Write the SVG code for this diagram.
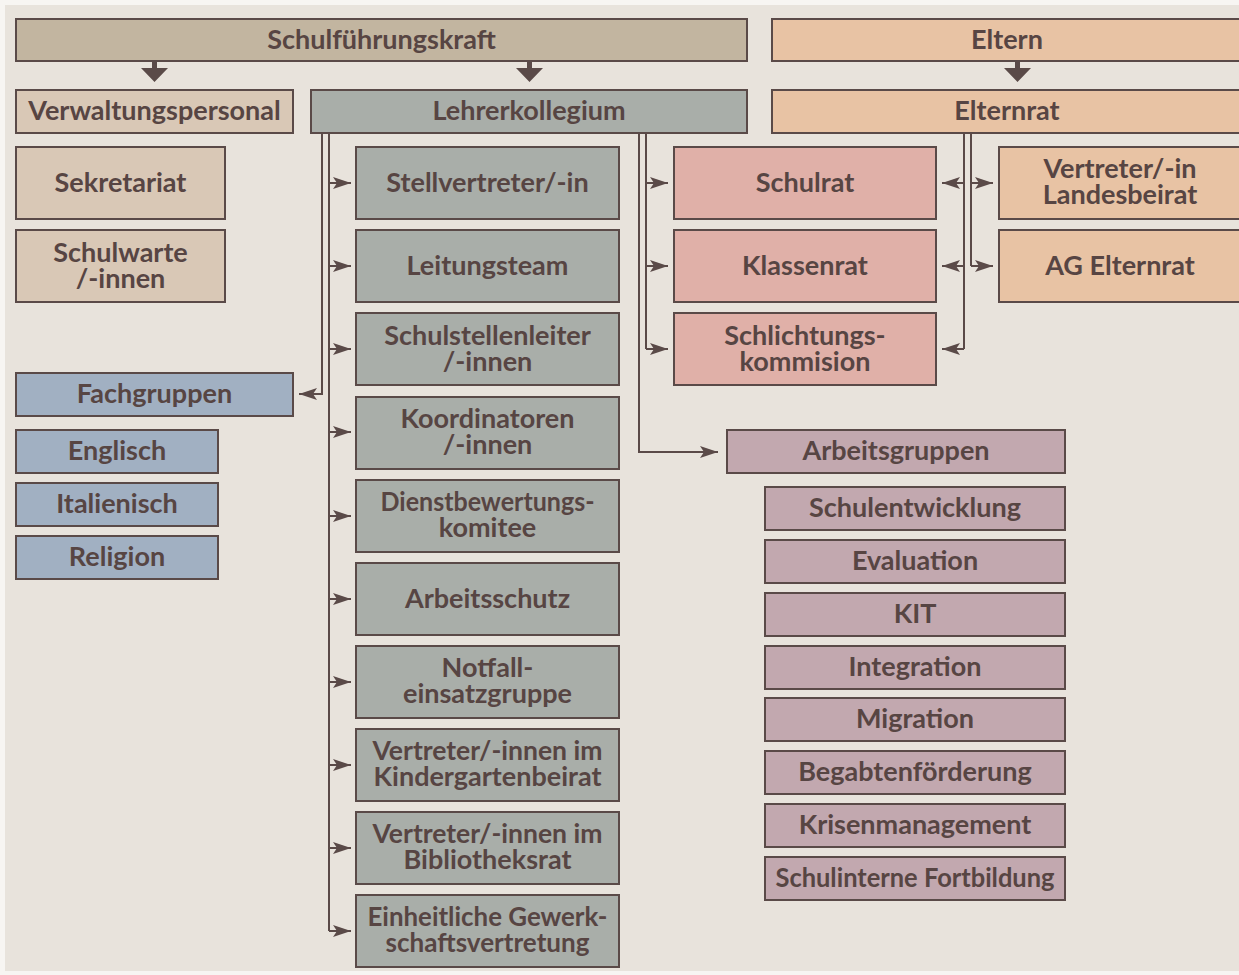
<svg xmlns="http://www.w3.org/2000/svg" width="1239" height="975" viewBox="0 0 1239 975">
<defs>
<style>
.b{stroke:#5a4a48;stroke-width:2}
.t{font-family:Lato,"Open Sans","DejaVu Sans",sans-serif;font-weight:700;font-size:27px;fill:#574543;text-anchor:middle}
.tan{fill:#c2b5a0}.beige{fill:#d9c8b6}.gray{fill:#a9aea9}.peach{fill:#e8c3a4}.pink{fill:#e0b0a8}.blue{fill:#a1b0c2}.mauve{fill:#c2a8af}
.c{fill:none;stroke:#5a4a48;stroke-width:2}
.big{fill:#5a4a48}
</style>
<marker id="ah" markerUnits="userSpaceOnUse" markerWidth="19" markerHeight="13" refX="18" refY="6.5" orient="auto" viewBox="0 0 19 13">
<path d="M0,0.5 L18,6.5 L0,12.5 L4,6.5 z" fill="#5a4a48"/>
</marker>
</defs>
<rect x="0" y="0" width="1239" height="975" fill="#f7f5f2"/>
<rect x="5" y="5" width="1240" height="966" fill="#e8e3dc"/>

<g id="connectors">
<path class="big" d="M152,61 h5 v7 h11 l-13.5,14 l-13.5,-14 h11 z"/>
<path class="big" d="M527,61 h5 v7 h11 l-13.5,14 l-13.5,-14 h11 z"/>
<path class="big" d="M1015,61 h5 v7 h11 l-13.5,14 l-13.5,-14 h11 z"/>
<path class="c" d="M322,133 V394 H299" marker-end="url(#ah)"/>
<path class="c" d="M329,133 V931"/>
<path class="c" d="M329,183 H351" marker-end="url(#ah)"/>
<path class="c" d="M329,266 H351" marker-end="url(#ah)"/>
<path class="c" d="M329,349 H351" marker-end="url(#ah)"/>
<path class="c" d="M329,432 H351" marker-end="url(#ah)"/>
<path class="c" d="M329,516 H351" marker-end="url(#ah)"/>
<path class="c" d="M329,599 H351" marker-end="url(#ah)"/>
<path class="c" d="M329,682 H351" marker-end="url(#ah)"/>
<path class="c" d="M329,765 H351" marker-end="url(#ah)"/>
<path class="c" d="M329,848 H351" marker-end="url(#ah)"/>
<path class="c" d="M329,931 H351" marker-end="url(#ah)"/>
<path class="c" d="M639,133 V452 H718" marker-end="url(#ah)"/>
<path class="c" d="M646,133 V349"/>
<path class="c" d="M646,183 H668" marker-end="url(#ah)"/>
<path class="c" d="M646,266 H668" marker-end="url(#ah)"/>
<path class="c" d="M646,349 H668" marker-end="url(#ah)"/>
<path class="c" d="M964,133 V349"/>
<path class="c" d="M964,183 H942" marker-end="url(#ah)"/>
<path class="c" d="M964,266 H942" marker-end="url(#ah)"/>
<path class="c" d="M964,349 H942" marker-end="url(#ah)"/>
<path class="c" d="M971,133 V266"/>
<path class="c" d="M971,183 H993" marker-end="url(#ah)"/>
<path class="c" d="M971,266 H993" marker-end="url(#ah)"/>
</g>

<g id="schulfuehrungskraft"><rect class="b tan" x="16" y="19" width="731" height="42"/><text class="t" x="381.5" y="49">Schulführungskraft</text></g>
<g id="eltern"><rect class="b peach" x="772" y="19" width="470" height="42"/><text class="t" x="1007" y="49">Eltern</text></g>
<g id="verwaltungspersonal"><rect class="b beige" x="16" y="90" width="277" height="43"/><text class="t" x="154.5" y="120">Verwaltungspersonal</text></g>
<g id="lehrerkollegium"><rect class="b gray" x="311" y="90" width="436" height="43"/><text class="t" x="529" y="120">Lehrerkollegium</text></g>
<g id="elternrat"><rect class="b peach" x="772" y="90" width="470" height="43"/><text class="t" x="1007" y="120">Elternrat</text></g>

<g id="sekretariat"><rect class="b beige" x="16" y="147" width="209" height="72"/><text class="t" x="120.5" y="192">Sekretariat</text></g>
<g id="schulwarte"><rect class="b beige" x="16" y="230" width="209" height="72"/><text class="t"><tspan x="120.5" y="262">Schulwarte</tspan><tspan x="120.5" dy="26">/-innen</tspan></text></g>

<g id="fachgruppen"><rect class="b blue" x="16" y="373" width="277" height="43"/><text class="t" x="154.5" y="403">Fachgruppen</text></g>
<g id="englisch"><rect class="b blue" x="16" y="430" width="202" height="43"/><text class="t" x="117" y="460">Englisch</text></g>
<g id="italienisch"><rect class="b blue" x="16" y="483" width="202" height="43"/><text class="t" x="117" y="513">Italienisch</text></g>
<g id="religion"><rect class="b blue" x="16" y="536" width="202" height="43"/><text class="t" x="117" y="566">Religion</text></g>

<g id="stellvertreter"><rect class="b gray" x="356" y="147" width="263" height="72"/><text class="t" x="487.5" y="192">Stellvertreter/-in</text></g>
<g id="leitungsteam"><rect class="b gray" x="356" y="230" width="263" height="72"/><text class="t" x="487.5" y="275">Leitungsteam</text></g>
<g id="schulstellenleiter"><rect class="b gray" x="356" y="313" width="263" height="72"/><text class="t"><tspan x="487.5" y="345">Schulstellenleiter</tspan><tspan x="487.5" dy="26">/-innen</tspan></text></g>
<g id="koordinatoren"><rect class="b gray" x="356" y="397" width="263" height="72"/><text class="t"><tspan x="487.5" y="428">Koordinatoren</tspan><tspan x="487.5" dy="26">/-innen</tspan></text></g>
<g id="dienstbewertungskomitee"><rect class="b gray" x="356" y="480" width="263" height="72"/><text class="t"><tspan x="487.5" y="511" textLength="214" lengthAdjust="spacingAndGlyphs">Dienstbewertungs-</tspan><tspan x="487.5" dy="26">komitee</tspan></text></g>
<g id="arbeitsschutz"><rect class="b gray" x="356" y="563" width="263" height="72"/><text class="t" x="487.5" y="608">Arbeitsschutz</text></g>
<g id="notfall"><rect class="b gray" x="356" y="646" width="263" height="72"/><text class="t"><tspan x="487.5" y="677">Notfall-</tspan><tspan x="487.5" dy="26">einsatzgruppe</tspan></text></g>
<g id="kindergartenbeirat"><rect class="b gray" x="356" y="729" width="263" height="72"/><text class="t"><tspan x="487.5" y="760" textLength="230" lengthAdjust="spacingAndGlyphs">Vertreter/-innen im</tspan><tspan x="487.5" dy="26">Kindergartenbeirat</tspan></text></g>
<g id="bibliotheksrat"><rect class="b gray" x="356" y="812" width="263" height="72"/><text class="t"><tspan x="487.5" y="843" textLength="230" lengthAdjust="spacingAndGlyphs">Vertreter/-innen im</tspan><tspan x="487.5" dy="26">Bibliotheksrat</tspan></text></g>
<g id="gewerkschaft"><rect class="b gray" x="356" y="895" width="263" height="72"/><text class="t"><tspan x="487.5" y="926" textLength="240" lengthAdjust="spacingAndGlyphs">Einheitliche Gewerk-</tspan><tspan x="487.5" dy="26" textLength="204" lengthAdjust="spacingAndGlyphs">schaftsvertretung</tspan></text></g>

<g id="schulrat"><rect class="b pink" x="674" y="147" width="262" height="72"/><text class="t" x="805" y="192">Schulrat</text></g>
<g id="klassenrat"><rect class="b pink" x="674" y="230" width="262" height="72"/><text class="t" x="805" y="275">Klassenrat</text></g>
<g id="schlichtungskommision"><rect class="b pink" x="674" y="313" width="262" height="72"/><text class="t"><tspan x="805" y="345">Schlichtungs-</tspan><tspan x="805" dy="26">kommision</tspan></text></g>

<g id="landesbeirat"><rect class="b peach" x="999" y="147" width="243" height="72"/><text class="t"><tspan x="1120" y="178">Vertreter/-in</tspan><tspan x="1120" dy="26">Landesbeirat</tspan></text></g>
<g id="ag-elternrat"><rect class="b peach" x="999" y="230" width="243" height="72"/><text class="t" x="1120" y="275">AG Elternrat</text></g>

<g id="arbeitsgruppen"><rect class="b mauve" x="727" y="430" width="338" height="43"/><text class="t" x="896" y="460">Arbeitsgruppen</text></g>
<g id="schulentwicklung"><rect class="b mauve" x="765" y="487" width="300" height="43"/><text class="t" x="915" y="517">Schulentwicklung</text></g>
<g id="evaluation"><rect class="b mauve" x="765" y="540" width="300" height="43"/><text class="t" x="915" y="570">Evaluation</text></g>
<g id="kit"><rect class="b mauve" x="765" y="593" width="300" height="43"/><text class="t" x="915" y="623">KIT</text></g>
<g id="integration"><rect class="b mauve" x="765" y="646" width="300" height="43"/><text class="t" x="915" y="676">Integration</text></g>
<g id="migration"><rect class="b mauve" x="765" y="698" width="300" height="43"/><text class="t" x="915" y="728">Migration</text></g>
<g id="begabtenfoerderung"><rect class="b mauve" x="765" y="751" width="300" height="43"/><text class="t" x="915" y="781">Begabtenförderung</text></g>
<g id="krisenmanagement"><rect class="b mauve" x="765" y="804" width="300" height="43"/><text class="t" x="915" y="834">Krisenmanagement</text></g>
<g id="fortbildung"><rect class="b mauve" x="765" y="857" width="300" height="43"/><text class="t" x="915" y="887" textLength="279" lengthAdjust="spacingAndGlyphs">Schulinterne Fortbildung</text></g>
</svg>
